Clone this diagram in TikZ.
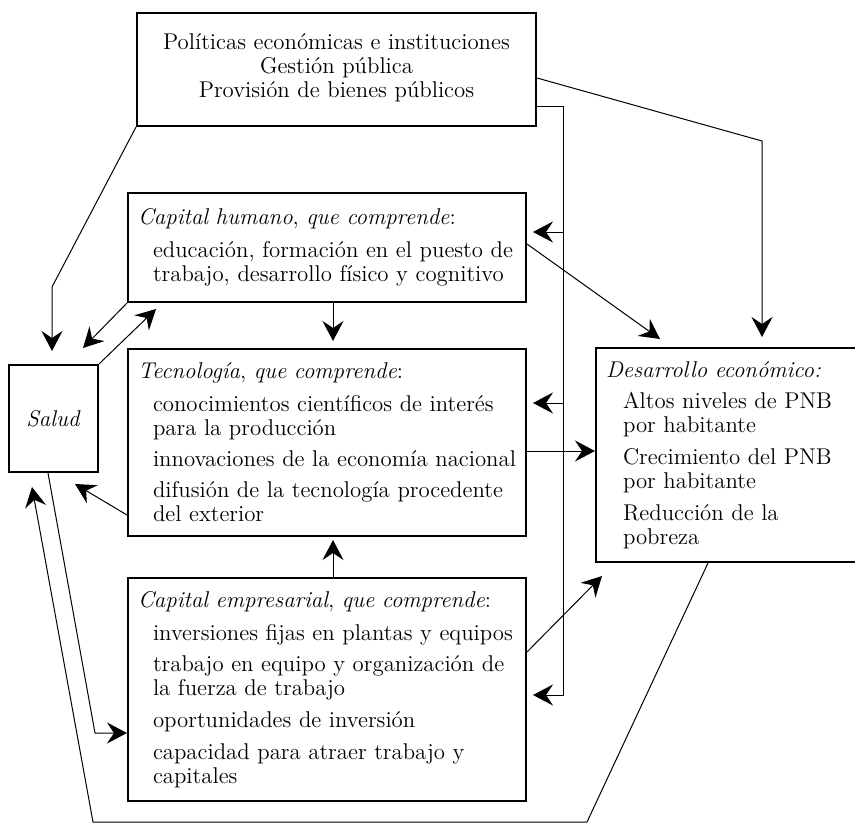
\documentclass[tikz,border=0pt]{standalone}
\usepackage{fontspec}
\usepackage{tikz}
\usetikzlibrary{arrows.meta}

\newcommand{\sangria}[1]{\hspace*{7.5pt}\mbox{#1}}

\begin{document}
\begin{tikzpicture}[
    x=0.5pt, y=-0.5pt,
    font=\fontsize{11.4}{12}\selectfont,
    box/.style={draw, line width=1pt, anchor=north west, inner ysep=0pt},
    panel/.style={box, align=left, inner xsep=5pt},
    arrow/.style={-{Stealth[length=10pt, width=10.5pt, inset=3.5pt]}, line width=0.5pt}
  ]
    \useasboundingbox (0,0) rectangle (855,824);

    \node[box, align=center, inner xsep=5pt, text width=189.5pt, minimum height=56.5pt] (pol) at (136,12)
      {Políticas económicas e instituciones\\ Gestión pública\\ Provisión de bienes públicos\\[-8pt]\mbox{}};
    \node[panel, text width=189pt, minimum height=54.5pt] (hum) at (127,192)
      {\textit{Capital humano}, \textit{que comprende}:\\[4.5pt]
       \sangria{educación, formación en el puesto de}\\
       \sangria{trabajo, desarrollo físico y cognitivo}};
    \node[panel, text width=189pt, minimum height=93.5pt] (tec) at (127,348)
      {\textit{Tecnología}, \textit{que comprende}:\\[4.5pt]
       \sangria{conocimientos científicos de interés}\\
       \sangria{para la producción}\\[3.5pt]
       \sangria{innovaciones de la economía nacional}\\[3.5pt]
       \sangria{difusión de la tecnología procedente}\\
       \sangria{del exterior}};
    \node[panel, text width=189pt, minimum height=111.5pt] (emp) at (127,577)
      {\textit{Capital empresarial}, \textit{que comprende}:\\[4.5pt]
       \sangria{inversiones fijas en plantas y equipos}\\[3.5pt]
       \sangria{trabajo en equipo y organización de}\\
       \sangria{la fuerza de trabajo}\\[4pt]
       \sangria{oportunidades de inversión}\\[4pt]
       \sangria{capacidad para atraer trabajo y}\\
       \sangria{capitales}};
    \node[panel, text width=121pt, minimum height=107pt] (des) at (595,347)
      {\textit{Desarrollo económico:}\\[3.5pt]
       \hspace*{8.5pt}Altos niveles de PNB\\
       \hspace*{8.5pt}por habitante\\[4pt]
       \hspace*{8.5pt}Crecimiento del PNB\\
       \hspace*{8.5pt}por habitante\\[4pt]
       \hspace*{8.5pt}Reducción de la\\
       \hspace*{8.5pt}pobreza};
    \node[box, inner xsep=0pt, minimum width=44.5pt, minimum height=53.5pt] (salud) at (8,364) {\textit{Salud}};

    % bends and free ends
    \coordinate (axis) at (333,0);
    \coordinate (c1) at (52,287);
    \coordinate (c2) at (83,348);
    \coordinate (c3) at (156,309);
    \coordinate (c6) at (75,484);
    \coordinate (c7) at (95,733);
    \coordinate (c11) at (660,339);
    \coordinate (c12) at (0,451);
    \coordinate (c13) at (602,576);
    \coordinate (r1) at (762,141);
    \coordinate (b0) at (563,106);
    \coordinate (b1) at (563,695);
    \coordinate (b2) at (563,232);
    \coordinate (b3) at (563,403);
    \coordinate (l1) at (587,822);
    \coordinate (l2) at (93,822);
    \coordinate (l3) at (32,487);

    \draw[arrow, shorten >=6.5pt] (pol.south west) -- (c1) -- (c1 |- salud.north);
    \draw[arrow] (hum.south west) -- (c2);
    \draw[arrow] (salud.north east) -- (c3);
    \draw[arrow, shorten >=3.5pt] (hum.south -| axis) -- (tec.north -| axis);
    \draw[arrow, shorten >=1.5pt] (emp.north -| axis) -- (tec.south -| axis);
    \draw[arrow] ([yshift=11pt]tec.south west) -- (c6);
    \draw[arrow] ([xshift=-2.75pt]salud.south) -- (c7) -- (c7 -| emp.west);
    \draw[arrow] ([xshift=56.5pt]des.south west) -- (l1) -- (l2) -- (l3);

    \draw[arrow, shorten >=5pt] ([yshift=-33pt]pol.north east) -- (r1) -- (r1 |- des.north);
    \draw[arrow, shorten >=3pt] (b0 -| pol.east) -- (b0) -- (b1) -- (b1 -| emp.east);
    \draw[arrow, shorten >=3pt] (b2) -- (b2 -| hum.east);
    \draw[arrow, shorten >=3pt] (b3) -- (b3 -| tec.east);

    \draw[arrow] ([yshift=1.75pt]hum.east) -- (c11);
    \draw[arrow] (c12 -| tec.east) -- (c12 -| des.west);
    \draw[arrow] ([yshift=18.75pt]emp.east) -- (c13);
\end{tikzpicture}
\end{document}
